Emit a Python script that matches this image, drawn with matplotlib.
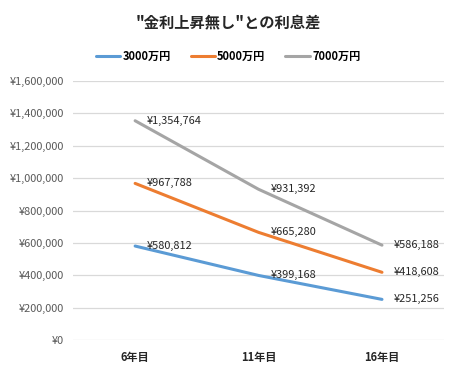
import matplotlib
matplotlib.use("Agg")
import matplotlib.pyplot as plt
from matplotlib.ticker import FuncFormatter

plt.rcParams['font.family'] = ['Noto Sans CJK JP', 'DejaVu Sans']

categories = ['6年目', '11年目', '16年目']
series_names = ['3000万円', '5000万円', '7000万円']
v3000 = [580812, 399168, 251256]
v5000 = [967788, 665280, 418608]
v7000 = [1354764, 931392, 586188]
colors = ['#5B9BD5', '#ED7D31', '#A5A5A5']

fig = plt.figure(figsize=(4.56, 3.77), dpi=100)
ax = fig.add_axes([0.161, 0.098, 0.812, 0.687])

x = range(len(categories))
for name, vals, c in zip(series_names, [v3000, v5000, v7000], colors):
    ax.plot(x, vals, color=c, lw=2.2, label=name, solid_capstyle='round')
    for xi, v in zip(x, vals):
        ax.annotate(f'¥{v:,}', (xi, v), xytext=(8.5, 0), textcoords='offset points',
                    ha='left', va='center', fontsize=7.9, color='#262626')

ax.set_xlim(-0.5, 2.5)
ax.set_ylim(0, 1600000)
ax.set_yticks(range(0, 1600001, 200000))
ax.yaxis.set_major_formatter(FuncFormatter(lambda v, p: f'¥{int(v):,}'))
ax.set_xticks(list(x))
ax.set_xticklabels(categories, fontweight='bold', fontsize=8, color='#262626')
ax.tick_params(axis='y', labelsize=7.9, labelcolor='#595959', length=0, pad=7)
ax.tick_params(axis='x', length=0, pad=8)
ax.grid(axis='y', color='#D9D9D9', lw=0.9)
ax.set_axisbelow(True)
for s in ax.spines.values():
    s.set_visible(False)

fig.text(0.5, 0.94, '"金利上昇無し"との利息差', ha='center', va='center',
         fontsize=11, fontweight='bold', color='#262626')
fig.legend(loc='center', bbox_to_anchor=(0.5, 0.851), ncol=3, frameon=False,
           handlelength=2.2, handletextpad=0.2, columnspacing=1.8,
           prop={'weight': 'bold', 'size': 8})

fig.savefig('out.png', dpi=100)
